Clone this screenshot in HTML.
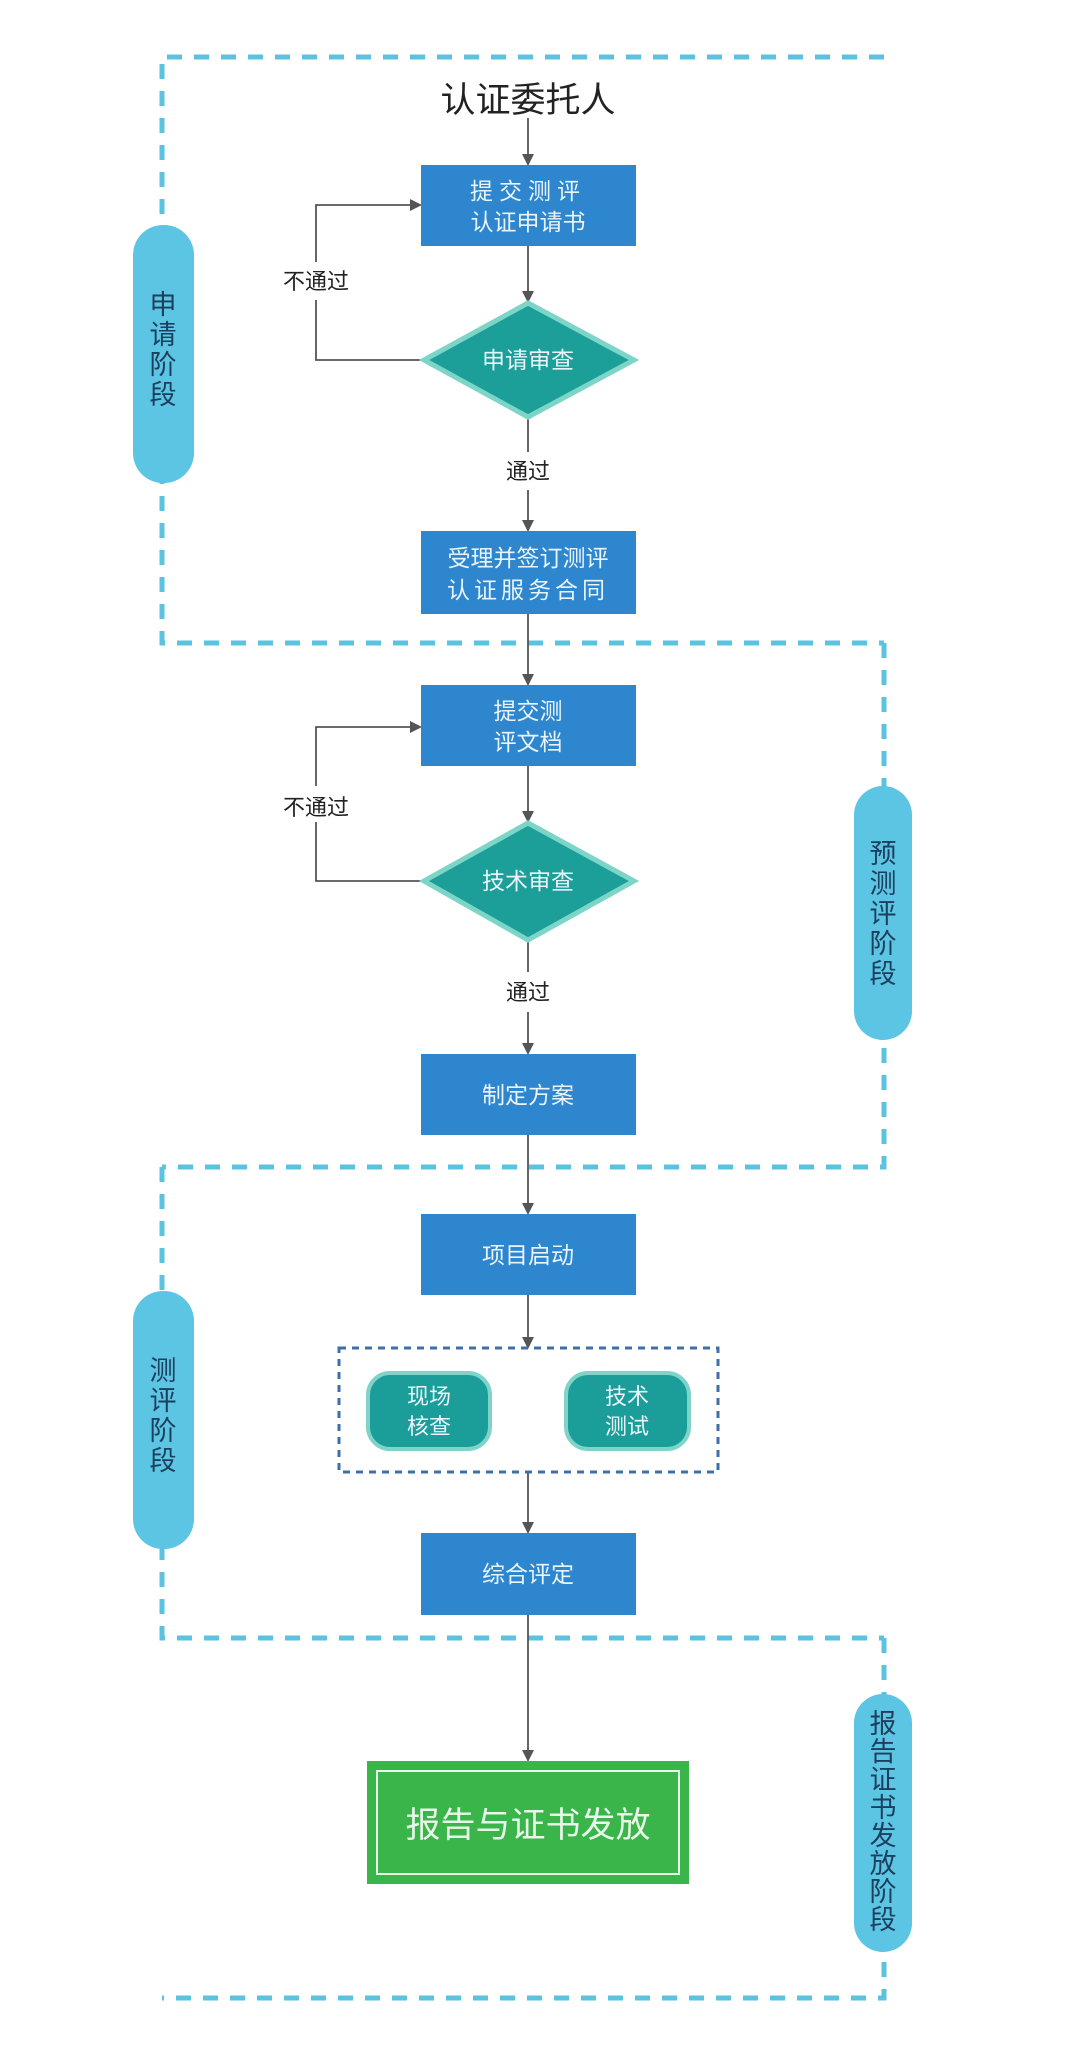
<!DOCTYPE html>
<html><head><meta charset="utf-8"><style>
html,body{margin:0;padding:0;background:#fff;}
svg{display:block;}
text{font-family:"Liberation Sans","Noto Sans CJK SC",sans-serif;}
</style></head><body>
<svg width="1080" height="2059" viewBox="0 0 1080 2059" xmlns="http://www.w3.org/2000/svg">
<defs>
<marker id="ar" markerWidth="12" markerHeight="12" refX="10" refY="6" orient="auto" markerUnits="userSpaceOnUse">
<path d="M0,0 L12,6 L0,12 Z" fill="#555"/>
</marker>
</defs>
<rect width="1080" height="2059" fill="#fff"/>
<!-- dashed section borders -->
<g stroke="#5bc3e0" stroke-width="5" fill="none" stroke-dasharray="15,12">
<path d="M884,57 L162,57 L162,643 L884,643"/>
<path d="M884,643 L884,1167 L162,1167"/>
<path d="M162,1167 L162,1638 L884,1638"/>
<path d="M884,1638 L884,1998 L162,1998"/>
</g>
<!-- stage pills -->
<g fill="#5bc5e3">
<rect x="133" y="225" width="61" height="258" rx="30"/>
<rect x="854" y="786" width="58" height="254" rx="29"/>
<rect x="133" y="1291" width="61" height="258" rx="30"/>
<rect x="854" y="1694" width="58" height="258" rx="29"/>
</g>
<g fill="#1d3f5e" font-size="27" text-anchor="middle">
<text x="163" y="314">申</text><text x="163" y="344">请</text><text x="163" y="374">阶</text><text x="163" y="404">段</text>
<text x="883" y="863">预</text><text x="883" y="893">测</text><text x="883" y="923">评</text><text x="883" y="953">阶</text><text x="883" y="983">段</text>
<text x="163" y="1380">测</text><text x="163" y="1410">评</text><text x="163" y="1440">阶</text><text x="163" y="1470">段</text>
<text x="883" y="1733">报</text><text x="883" y="1761">告</text><text x="883" y="1789">证</text><text x="883" y="1817">书</text><text x="883" y="1845">发</text><text x="883" y="1873">放</text><text x="883" y="1901">阶</text><text x="883" y="1929">段</text>
</g>
<!-- connectors -->
<g stroke="#555" stroke-width="1.8" fill="none">
<line x1="528" y1="118" x2="528" y2="164" marker-end="url(#ar)"/>
<line x1="528" y1="246" x2="528" y2="301" marker-end="url(#ar)"/>
<line x1="528" y1="418" x2="528" y2="452"/>
<line x1="528" y1="490" x2="528" y2="530" marker-end="url(#ar)"/>
<polyline points="422,360 316,360 316,300"/>
<polyline points="316,262 316,205 420,205" marker-end="url(#ar)"/>
<line x1="528" y1="614" x2="528" y2="684" marker-end="url(#ar)"/>
<line x1="528" y1="766" x2="528" y2="821" marker-end="url(#ar)"/>
<line x1="528" y1="942" x2="528" y2="972"/>
<line x1="528" y1="1012" x2="528" y2="1053" marker-end="url(#ar)"/>
<polyline points="423,881 316,881 316,822"/>
<polyline points="316,786 316,727 420,727" marker-end="url(#ar)"/>
<line x1="528" y1="1135" x2="528" y2="1213" marker-end="url(#ar)"/>
<line x1="528" y1="1295" x2="528" y2="1347" marker-end="url(#ar)"/>
<line x1="528" y1="1472" x2="528" y2="1532" marker-end="url(#ar)"/>
<line x1="528" y1="1615" x2="528" y2="1760" marker-end="url(#ar)"/>
</g>
<!-- title -->
<text x="528" y="112" font-size="35" text-anchor="middle" fill="#222">认证委托人</text>
<!-- boxes -->
<g fill="#2e86cf">
<rect x="421" y="165" width="215" height="81"/>
<rect x="421" y="531" width="215" height="83"/>
<rect x="421" y="685" width="215" height="81"/>
<rect x="421" y="1054" width="215" height="81"/>
<rect x="421" y="1214" width="215" height="81"/>
<rect x="421" y="1533" width="215" height="82"/>
</g>
<g fill="#eaf4fb" font-size="23" text-anchor="middle">
<text x="528" y="199" letter-spacing="6">提交测评</text>
<text x="528" y="230">认证申请书</text>
<text x="528" y="566">受理并签订测评</text>
<text x="528" y="598" letter-spacing="4">认证服务合同</text>
<text x="528" y="719">提交测</text>
<text x="528" y="750">评文档</text>
<text x="528" y="1103">制定方案</text>
<text x="528" y="1263">项目启动</text>
<text x="528" y="1582">综合评定</text>
</g>
<!-- diamonds -->
<g fill="#1c9f99" stroke="#7dd5c8" stroke-width="5">
<polygon points="528,303 634,360 528,417 424,360"/>
<polygon points="528,823 634,881 528,940 424,881"/>
</g>
<g fill="#eaf4fb" font-size="23" text-anchor="middle">
<text x="528" y="368">申请审查</text>
<text x="528" y="889">技术审查</text>
</g>
<!-- labels -->
<g fill="#222" font-size="22" text-anchor="middle">
<text x="316" y="289">不通过</text>
<text x="528" y="479">通过</text>
<text x="316" y="815">不通过</text>
<text x="528" y="1000">通过</text>
</g>
<!-- dotted group -->
<rect x="339" y="1348" width="379" height="124" fill="none" stroke="#3d6fa8" stroke-width="3" stroke-dasharray="7,6"/>
<g fill="#1b9e9a" stroke="#7fd3c8" stroke-width="4">
<rect x="368" y="1373" width="122" height="76" rx="22"/>
<rect x="566" y="1373" width="123" height="76" rx="22"/>
</g>
<g fill="#eaf4fb" font-size="22" text-anchor="middle">
<text x="429" y="1404">现场</text><text x="429" y="1434">核查</text>
<text x="627" y="1404">技术</text><text x="627" y="1434">测试</text>
</g>
<!-- green box -->
<rect x="367" y="1761" width="322" height="123" fill="#3ab54a"/>
<rect x="377" y="1771" width="302" height="103" fill="none" stroke="#e8f7ea" stroke-width="2"/>
<text x="528" y="1837" font-size="35" fill="#e8f7ea" text-anchor="middle">报告与证书发放</text>
</svg>
</body></html>
